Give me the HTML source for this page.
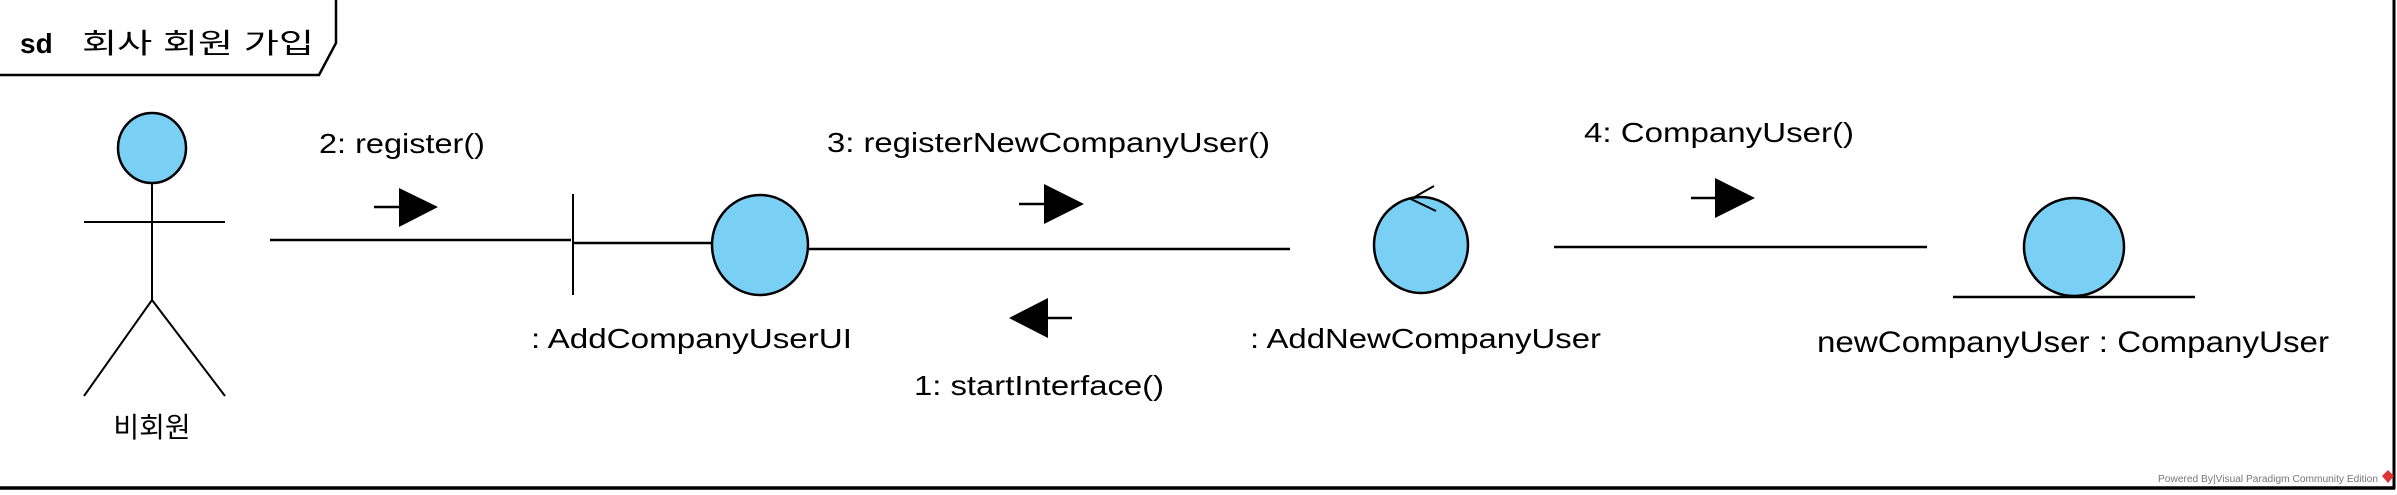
<!DOCTYPE html>
<html><head><meta charset="utf-8"><style>
html,body{margin:0;padding:0;background:#fff;}
svg{display:block;}
text{font-family:"Liberation Sans","Noto Sans CJK KR",sans-serif;fill:#000;}
</style></head><body>
<svg width="2397" height="495" viewBox="0 0 2397 495" xmlns="http://www.w3.org/2000/svg">
<rect x="0" y="0" width="2397" height="495" fill="#fff"/>
<!-- frame -->
<line x1="0" y1="488" x2="2395" y2="488" stroke="#000" stroke-width="3.5"/>
<line x1="2394" y1="0" x2="2394" y2="489" stroke="#000" stroke-width="3"/>
<polyline points="0,75 319,75 336,43 336,0" fill="none" stroke="#000" stroke-width="2.5"/>
<text x="20" y="53" font-size="28" font-weight="bold">sd</text>
<text x="82" y="53" font-size="28" textLength="232" lengthAdjust="spacingAndGlyphs">회사 회원 가입</text>

<!-- actor -->
<ellipse cx="152" cy="148" rx="34" ry="35" fill="#7acff5" stroke="#000" stroke-width="2.5"/>
<line x1="152" y1="183" x2="152" y2="300" stroke="#000" stroke-width="2"/>
<line x1="84" y1="222" x2="225" y2="222" stroke="#000" stroke-width="2"/>
<polyline points="84,396 152,300 225,396" fill="none" stroke="#000" stroke-width="2"/>
<text x="152" y="437" font-size="28" text-anchor="middle">비회원</text>

<!-- link 2 -->
<line x1="270" y1="240" x2="571" y2="240" stroke="#000" stroke-width="2.5"/>
<line x1="374" y1="207" x2="399" y2="207" stroke="#000" stroke-width="2.5"/>
<polygon points="399,188 438,207 399,227" fill="#000"/>
<text x="319" y="153" font-size="28" textLength="166" lengthAdjust="spacingAndGlyphs">2: register()</text>

<!-- boundary -->
<line x1="573" y1="194" x2="573" y2="295" stroke="#000" stroke-width="2"/>
<line x1="573" y1="243" x2="712" y2="243" stroke="#000" stroke-width="2.5"/>
<ellipse cx="760" cy="245" rx="48" ry="50" fill="#7acff5" stroke="#000" stroke-width="2.5"/>
<text x="531" y="348" font-size="28" textLength="321" lengthAdjust="spacingAndGlyphs">: AddCompanyUserUI</text>

<!-- link 3/1 -->
<line x1="809" y1="249" x2="1290" y2="249" stroke="#000" stroke-width="2.5"/>
<line x1="1019" y1="204" x2="1044" y2="204" stroke="#000" stroke-width="2.5"/>
<polygon points="1044,184 1084,204 1044,224" fill="#000"/>
<text x="827" y="152" font-size="28" textLength="443" lengthAdjust="spacingAndGlyphs">3: registerNewCompanyUser()</text>
<line x1="1048" y1="318" x2="1072" y2="318" stroke="#000" stroke-width="2.5"/>
<polygon points="1009,318 1048,298 1048,338" fill="#000"/>
<text x="914" y="395" font-size="28" textLength="250" lengthAdjust="spacingAndGlyphs">1: startInterface()</text>

<!-- control -->
<ellipse cx="1421" cy="245" rx="47" ry="48" fill="#7acff5" stroke="#000" stroke-width="2.5"/>
<polyline points="1434,186 1411,199 1436,211" fill="none" stroke="#000" stroke-width="2"/>
<text x="1250" y="348" font-size="28" textLength="351" lengthAdjust="spacingAndGlyphs">: AddNewCompanyUser</text>

<!-- link 4 -->
<line x1="1554" y1="247" x2="1927" y2="247" stroke="#000" stroke-width="2.5"/>
<line x1="1691" y1="198" x2="1715" y2="198" stroke="#000" stroke-width="2.5"/>
<polygon points="1715,178 1755,198 1715,218" fill="#000"/>
<text x="1584" y="142" font-size="28" textLength="270" lengthAdjust="spacingAndGlyphs">4: CompanyUser()</text>

<!-- entity -->
<ellipse cx="2074" cy="247" rx="50" ry="49" fill="#7acff5" stroke="#000" stroke-width="2.5"/>
<line x1="1953" y1="297" x2="2195" y2="297" stroke="#000" stroke-width="2.5"/>
<text x="1817" y="352" font-size="30" textLength="512" lengthAdjust="spacingAndGlyphs">newCompanyUser : CompanyUser</text>

<!-- watermark -->
<text x="2158" y="482" font-size="10" fill="#777" style="fill:#777" textLength="220" lengthAdjust="spacingAndGlyphs">Powered By|Visual Paradigm Community Edition</text>
<polygon points="2388,470 2394,476 2388,483 2382,476" fill="#d33"/>
</svg>
</body></html>
